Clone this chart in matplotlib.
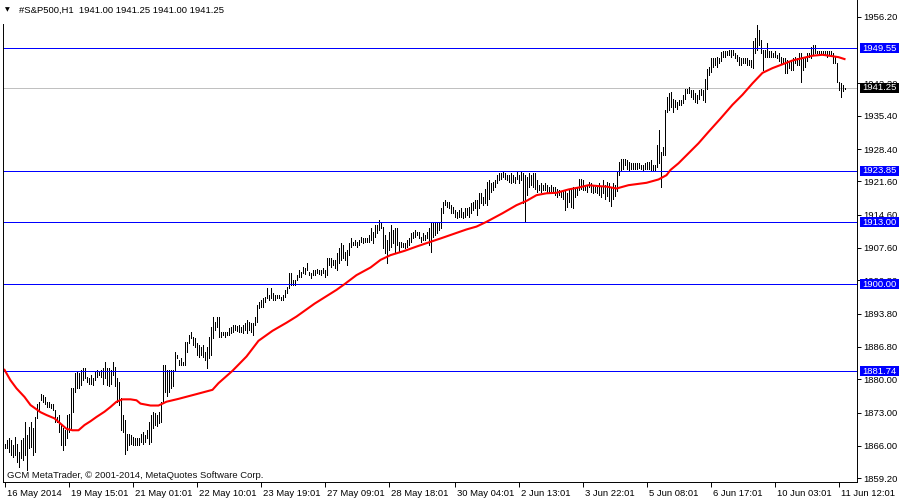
import matplotlib
matplotlib.use("Agg")
import matplotlib.pyplot as plt
from matplotlib.transforms import blended_transform_factory, ScaledTranslation
from matplotlib.patches import Rectangle
from matplotlib.lines import Line2D

plt.rcParams['font.family'] = ['Liberation Sans', 'DejaVu Sans']

header_text = "#S&P500,H1  1941.00 1941.25 1941.00 1941.25"
watermark = "GCM MetaTrader, \u00a9 2001-2014, MetaQuotes Software Corp."

# hourly bar highs / lows (bar index 0 .. 420)
highs = [
    1866.5, 1867.2, 1867.6, 1867.2, 1866.2, 1867.9, 1866.5, 1864.8, 1867.2, 1867.6,
    1871.1, 1868.3, 1870.0, 1871.1, 1869.7, 1872.1, 1874.9, 1875.3, 1877.0, 1876.7,
    1876.3, 1875.3, 1875.3, 1874.9, 1874.9, 1873.5, 1872.1, 1872.5, 1870.4, 1869.7,
    1869.3, 1872.5, 1872.8, 1878.1, 1878.1, 1881.3, 1881.6, 1881.3, 1882.0, 1882.3,
    1882.3, 1880.5, 1880.2, 1880.9, 1880.2, 1881.6, 1882.0, 1881.6, 1882.0, 1882.3,
    1883.7, 1882.3, 1882.3, 1882.0, 1883.7, 1882.6, 1880.2, 1879.5, 1876.0, 1872.5,
    1871.4, 1868.6, 1868.6, 1868.3, 1867.9, 1867.6, 1867.6, 1867.6, 1868.6, 1869.0,
    1868.3, 1869.3, 1871.1, 1872.5,
    1873.2, 1872.9, 1872.5, 1873.2, 1875.3, 1883.0, 1883.0, 1882.0, 1882.0, 1882.0,
    1882.0, 1885.8, 1885.1, 1884.1, 1884.4, 1883.7, 1887.9, 1887.9, 1889.3, 1889.9,
    1889.0, 1888.6, 1887.6, 1887.2, 1886.9, 1887.2, 1885.8, 1886.9, 1889.0, 1891.1,
    1893.2, 1892.1, 1893.2, 1893.2, 1890.0, 1890.0, 1890.0, 1890.0, 1890.7, 1891.1,
    1891.4, 1891.4, 1891.3, 1891.4, 1891.1, 1891.4, 1891.8, 1892.5, 1892.1, 1891.8,
    1891.8, 1893.2, 1895.6, 1896.3, 1896.7, 1897.0, 1897.4, 1899.1, 1897.7, 1899.1,
    1898.1, 1897.7, 1897.7, 1897.7, 1897.4, 1897.7, 1898.8, 1899.5, 1902.3, 1902.3,
    1900.9, 1900.9,
    1901.9, 1903.0, 1902.6, 1903.7, 1903.5, 1904.4, 1902.6, 1902.3, 1903.0, 1902.9,
    1903.1, 1903.0, 1903.0, 1903.3, 1903.0, 1905.4, 1905.4, 1905.4, 1905.1, 1905.1,
    1906.5, 1907.5, 1908.6, 1908.2, 1906.8, 1907.2, 1908.6, 1909.6, 1908.9, 1909.3,
    1908.9, 1909.3, 1910.0, 1909.6, 1909.6, 1909.6, 1910.3, 1911.7, 1911.0, 1912.4,
    1912.4, 1913.5, 1912.8, 1912.1, 1910.3, 1909.3, 1911.0, 1912.4, 1911.4, 1911.7,
    1911.7, 1908.9, 1908.9, 1908.6, 1908.6, 1909.3, 1909.6, 1910.7, 1911.0, 1911.4,
    1911.0, 1911.0, 1910.0, 1910.7, 1910.3, 1911.0, 1911.7, 1913.1, 1912.8, 1912.8,
    1912.8, 1913.1, 1915.9,
    1917.3, 1917.7, 1917.3, 1917.3, 1916.6, 1916.3, 1915.6, 1915.2, 1915.6, 1915.9,
    1915.2, 1915.9, 1915.9, 1916.3, 1917.0, 1917.3, 1917.7, 1917.7, 1919.1, 1919.1,
    1918.4, 1920.1, 1921.5, 1921.9, 1921.2, 1921.5, 1921.9, 1922.9, 1923.3, 1923.3,
    1923.6, 1923.3, 1922.9, 1922.9, 1923.3, 1922.9, 1922.6, 1923.6, 1922.9, 1923.6,
    1923.3, 1922.9, 1922.6, 1923.3, 1922.9, 1923.3, 1923.3, 1921.9, 1920.8, 1921.2,
    1920.8, 1921.2, 1920.8, 1920.5, 1920.8, 1920.5, 1920.5, 1920.1, 1919.8, 1919.4,
    1919.8, 1919.8, 1919.1, 1920.1, 1920.1, 1920.5, 1920.1, 1920.5, 1922.2, 1922.2,
    1921.9, 1920.8, 1920.8, 1921.5, 1921.2, 1920.8, 1920.5, 1920.5, 1921.2, 1920.5,
    1921.9, 1920.8,
    1921.5, 1921.2, 1920.5, 1921.2, 1920.8, 1923.6, 1925.7, 1926.4, 1926.4, 1926.4,
    1926.1, 1925.7, 1925.4, 1925.4, 1925.4, 1925.4, 1925.5, 1925.0, 1925.0, 1925.4,
    1925.7, 1925.7, 1926.1, 1925.0, 1925.0, 1929.2, 1932.4, 1927.8, 1928.9, 1936.6,
    1939.4, 1940.1, 1940.4, 1939.0, 1938.7, 1938.3, 1938.7, 1938.7, 1939.7, 1941.1,
    1941.1, 1941.5, 1940.8, 1940.8, 1940.1, 1939.7, 1940.8, 1941.1, 1940.8, 1943.2,
    1945.3, 1945.7, 1947.5, 1947.5, 1947.5, 1947.8, 1947.5, 1948.8,
    1948.9, 1948.9, 1948.9, 1949.2, 1949.2, 1949.2, 1948.5, 1948.2, 1947.8, 1947.5,
    1947.5, 1947.5, 1947.5, 1947.1, 1947.1, 1951.0, 1951.7, 1954.5, 1953.4, 1951.3,
    1949.2, 1949.2, 1950.6, 1948.9, 1948.9, 1948.5, 1948.9, 1948.2, 1948.5, 1947.8,
    1947.5, 1947.5, 1947.1, 1946.8, 1947.1, 1947.5, 1947.8, 1947.5, 1948.5, 1948.5,
    1947.5, 1947.8, 1948.5, 1948.5, 1949.9, 1950.3, 1950.3, 1948.9, 1948.9, 1948.9,
    1948.9, 1948.9, 1948.9, 1948.9, 1948.9, 1948.5, 1947.8, 1946.4, 1942.5, 1942.2,
    1941.9, 1941.25,
]

lows = [
    1865.6, 1865.5, 1864.8, 1864.1, 1863.7, 1864.1, 1862.7, 1861.6, 1863.4, 1863.0,
    1864.1, 1860.9, 1865.5, 1865.8, 1864.1, 1864.8, 1871.8, 1873.5, 1875.6, 1875.3,
    1874.9, 1874.2, 1874.1, 1873.9, 1873.5, 1871.1, 1871.1, 1869.0, 1866.2, 1865.1,
    1866.2, 1867.6, 1869.0, 1869.7, 1873.2, 1877.4, 1878.1, 1878.1, 1878.8, 1879.8,
    1880.2, 1879.5, 1879.1, 1879.1, 1878.8, 1879.8, 1880.5, 1880.9, 1880.5, 1879.1,
    1880.2, 1878.8, 1878.5, 1879.1, 1880.9, 1878.5, 1875.3, 1874.6, 1869.3, 1869.0,
    1864.4, 1865.1, 1866.2, 1866.5, 1866.2, 1866.2, 1866.2, 1866.1, 1866.8, 1866.5,
    1866.9, 1867.6, 1866.5, 1866.9,
    1869.7, 1870.4, 1870.1, 1870.8, 1871.1, 1875.3, 1877.4, 1876.4, 1877.4, 1878.1,
    1878.5, 1882.0, 1884.4, 1883.0, 1883.0, 1883.0, 1883.0, 1885.8, 1887.6, 1888.6,
    1887.2, 1886.9, 1885.1, 1884.8, 1885.1, 1884.8, 1884.1, 1882.3, 1884.4, 1885.1,
    1888.6, 1890.4, 1891.1, 1889.0, 1889.0, 1889.3, 1889.0, 1889.3, 1889.3, 1889.7,
    1890.0, 1890.4, 1890.2, 1890.0, 1890.0, 1889.7, 1890.4, 1889.7, 1890.4, 1890.0,
    1889.3, 1891.4, 1892.1, 1894.9, 1895.3, 1895.3, 1896.3, 1897.0, 1896.7, 1897.0,
    1896.7, 1896.7, 1897.0, 1897.0, 1896.7, 1896.7, 1897.4, 1898.1, 1899.1, 1899.8,
    1899.8, 1899.8,
    1900.9, 1901.6, 1901.6, 1902.3, 1902.1, 1903.0, 1901.9, 1901.4, 1901.9, 1901.9,
    1902.3, 1902.1, 1901.9, 1902.3, 1901.6, 1901.9, 1904.0, 1903.7, 1904.0, 1903.3,
    1903.0, 1904.4, 1905.1, 1905.4, 1905.1, 1904.0, 1906.1, 1907.9, 1908.2, 1908.2,
    1907.9, 1908.2, 1908.9, 1908.6, 1908.9, 1908.9, 1908.9, 1909.3, 1908.6, 1910.0,
    1910.7, 1911.4, 1911.7, 1907.5, 1906.5, 1904.4, 1907.2, 1907.9, 1908.6, 1906.8,
    1908.2, 1906.8, 1907.9, 1907.9, 1907.5, 1907.9, 1908.2, 1908.9, 1909.6, 1910.0,
    1910.3, 1909.6, 1908.9, 1909.3, 1909.3, 1909.6, 1908.2, 1906.8, 1910.0, 1910.3,
    1910.7, 1911.4, 1911.7,
    1914.9, 1916.6, 1916.3, 1915.9, 1914.9, 1914.9, 1914.2, 1913.8, 1914.2, 1914.2,
    1913.8, 1914.2, 1914.5, 1914.2, 1914.9, 1915.6, 1915.9, 1914.5, 1915.9, 1917.0,
    1916.6, 1917.0, 1916.6, 1918.0, 1919.4, 1919.8, 1920.5, 1921.2, 1921.9, 1922.2,
    1922.6, 1922.2, 1921.9, 1921.5, 1921.2, 1921.5, 1921.2, 1922.2, 1921.2, 1921.9,
    1917.0, 1913.1, 1918.7, 1920.5, 1920.8, 1920.5, 1920.1, 1919.4, 1919.8, 1919.4,
    1919.8, 1919.8, 1919.4, 1919.1, 1919.4, 1919.4, 1918.7, 1918.4, 1918.7, 1918.4,
    1918.0, 1915.6, 1916.3, 1917.3, 1916.3, 1915.9, 1918.4, 1918.7, 1919.8, 1920.1,
    1919.8, 1919.8, 1919.4, 1920.5, 1919.4, 1919.1, 1919.4, 1919.1, 1918.7, 1918.4,
    1919.1, 1918.0,
    1918.5, 1917.5, 1916.5, 1917.8, 1918.5, 1919.5, 1922.9, 1924.0, 1924.3, 1925.0,
    1924.3, 1924.0, 1924.3, 1924.3, 1924.3, 1924.1, 1924.5, 1924.1, 1924.0, 1924.3,
    1924.3, 1924.3, 1924.0, 1924.0, 1923.9, 1924.7, 1925.4, 1920.5, 1927.1, 1927.1,
    1936.2, 1936.6, 1937.3, 1936.2, 1937.3, 1936.9, 1937.6, 1937.6, 1938.0, 1939.0,
    1940.1, 1940.1, 1939.4, 1939.0, 1938.3, 1938.0, 1939.0, 1939.7, 1938.7, 1938.3,
    1941.1, 1943.9, 1944.6, 1945.7, 1946.0, 1945.7, 1946.4, 1946.8,
    1947.8, 1947.8, 1948.2, 1948.2, 1947.8, 1948.2, 1947.5, 1946.8, 1946.1, 1946.1,
    1946.4, 1946.4, 1946.1, 1946.1, 1945.7, 1945.4, 1948.5, 1949.2, 1950.3, 1948.5,
    1945.0, 1947.8, 1947.8, 1947.8, 1947.8, 1947.8, 1947.8, 1947.5, 1946.8, 1946.4,
    1946.4, 1944.3, 1944.3, 1945.4, 1945.0, 1945.0, 1946.4, 1946.1, 1946.1, 1942.5,
    1945.0, 1945.7, 1946.8, 1947.8, 1947.5, 1948.2, 1948.5, 1948.5, 1948.5, 1948.5,
    1948.2, 1948.2, 1947.8, 1948.2, 1948.2, 1946.4, 1946.4, 1942.5, 1940.8, 1939.4,
    1940.5, 1941.0,
]

# moving average (bar index, value)
ma_bar = [0, 3, 6, 10, 13, 18, 21, 25, 28, 31, 34, 37, 40, 43, 46, 50, 53, 56, 59, 63,
          66, 68, 73, 77, 81, 87, 96, 104, 107, 114, 121, 127, 134, 141, 146, 155, 166, 170, 176, 183,
          188, 193, 200, 206, 213, 218, 231, 236, 241, 249, 256, 261, 266, 271, 276, 282, 287, 292, 297, 301,
          306, 312, 321, 327, 331, 333, 337, 342, 347, 352, 358, 364, 369, 374, 379, 384, 389, 394, 399, 404,
          409, 414, 417, 420]
ma_val = [1882.0, 1879.8, 1878.1, 1876.3, 1874.6, 1873.1, 1872.5, 1871.8, 1870.7, 1869.6,
          1869.3, 1869.3, 1870.4, 1871.2, 1872.1, 1873.2, 1874.2, 1875.3, 1875.8, 1875.8,
          1875.6, 1874.9, 1874.5, 1874.5, 1875.3, 1875.9, 1876.9, 1877.8, 1879.2, 1881.8,
          1884.8, 1888.1, 1890.2, 1891.9, 1893.2, 1895.9, 1898.8, 1900.0, 1901.9, 1903.5,
          1905.1, 1906.1, 1907.0, 1907.9, 1908.9, 1909.6, 1911.5, 1912.1, 1913.1, 1914.9,
          1916.6, 1917.5, 1918.7, 1919.1, 1919.2, 1919.9, 1920.3, 1920.8, 1920.6, 1920.5,
          1920.1, 1920.8, 1921.3, 1922.0, 1922.9, 1924.0, 1925.4, 1927.5, 1929.6, 1932.0,
          1934.8, 1937.7, 1939.8, 1942.2, 1944.4, 1945.4, 1946.2, 1947.0, 1947.5, 1948.0,
          1948.2, 1947.9, 1947.7, 1947.3]

levels = [1949.55, 1923.85, 1913.00, 1900.00, 1881.74]
bid = 1941.25

y_ticks = [1859.20, 1866.00, 1873.00, 1880.00, 1886.80, 1893.80, 1900.80, 1907.60,
           1914.60, 1921.60, 1928.40, 1935.40, 1942.20, 1956.20]
x_tick_bars = [0, 32, 64, 96, 128, 160, 192, 225, 257, 289, 321, 353, 385, 417]
x_tick_labels = ["16 May 2014", "19 May 15:01", "21 May 01:01", "22 May 10:01",
                 "23 May 19:01", "27 May 09:01", "28 May 18:01", "30 May 04:01",
                 "2 Jun 13:01", "3 Jun 22:01", "5 Jun 08:01", "6 Jun 17:01",
                 "10 Jun 03:01", "11 Jun 12:01"]

assert len(highs) == len(lows) == 421
assert len(ma_bar) == len(ma_val)

W, H = 900, 500
FS = 6.8
LW1 = 0.7  # ~1 px
fig = plt.figure(figsize=(9, 5), dpi=100)
fig.patch.set_facecolor('white')
px_l, px_r, px_t, px_b = 2.5, 857.0, 0.0, 482.0
ax = fig.add_axes([px_l / W, 1 - px_b / H, (px_r - px_l) / W, (px_b - px_t) / H])
ax.set_facecolor('white')

idx = list(range(len(highs)))
# bar i sits at pixel column 4.5 + 2 i
ax.set_xlim(-1.0, (px_r - 4.5) / 2.0)
ax.set_ylim(1858.43, 1959.71)

ax.axhline(bid, color='#c0c0c0', lw=LW1, antialiased=False, zorder=1)
ax.vlines(idx, lows, highs, colors='black', linewidth=LW1, antialiased=False, zorder=2)
for lv in levels:
    ax.axhline(lv, color='#0000ff', lw=LW1, antialiased=False, zorder=3)
ax.plot(ma_bar, ma_val, color='#ff0000', lw=1.5, zorder=4, solid_joinstyle='round')

# spines
for s in ('top', 'left'):
    ax.spines[s].set_visible(False)
for s in ('right', 'bottom'):
    ax.spines[s].set_linewidth(LW1)
    ax.spines[s].set_color('black')
fig.add_artist(Line2D([px_l / W, px_l / W], [1 - 24 / H, 1 - px_b / H], color='black', lw=LW1))

# y axis on the right
ax.yaxis.tick_right()
ax.set_yticks(y_ticks)
ax.set_yticklabels([f"{v:.2f}" for v in y_ticks])
ax.tick_params(axis='y', direction='out', length=3, width=LW1, pad=1.5, labelsize=FS, colors='black')

# x axis
ax.set_xticks(x_tick_bars)
ax.set_xticklabels(x_tick_labels, ha='left')
ax.tick_params(axis='x', direction='out', length=3.5, width=LW1, pad=1.5, labelsize=FS, colors='black')
for lbl in ax.get_xticklabels():
    lbl.set_transform(lbl.get_transform() + ScaledTranslation(1.5 / 72, 0, fig.dpi_scale_trans))

# price labels on the axis
trans = blended_transform_factory(ax.transAxes, ax.transData)
axw = px_r - px_l
box_x0 = (859.5 - px_l) / axw
box_w = 39.0 / axw
box_h = 10.0 / 4.759
txt_x = (862.0 - px_l) / axw
for lv, bg in [(l, '#0000ff') for l in levels] + [(bid, '#000000')]:
    ax.add_patch(Rectangle((box_x0, lv - box_h / 2), box_w, box_h, transform=trans,
                           facecolor=bg, edgecolor='none', clip_on=False, zorder=10))
    ax.text(txt_x, lv, f"{lv:.2f}", transform=trans, color='white', fontsize=FS,
            ha='left', va='center', clip_on=False, zorder=11)

# header and watermark
fig.text(5 / W, 1 - 10 / H, '\u25bc', fontsize=4.5, family='DejaVu Sans', ha='left', va='center')
fig.text(19 / W, 1 - 10 / H, header_text, fontsize=FS, ha='left', va='center', color='black')
fig.text(7 / W, 1 - 475 / H, watermark, fontsize=FS, ha='left', va='center', color='#111111', zorder=5)

fig.savefig('out.png', dpi=100)
